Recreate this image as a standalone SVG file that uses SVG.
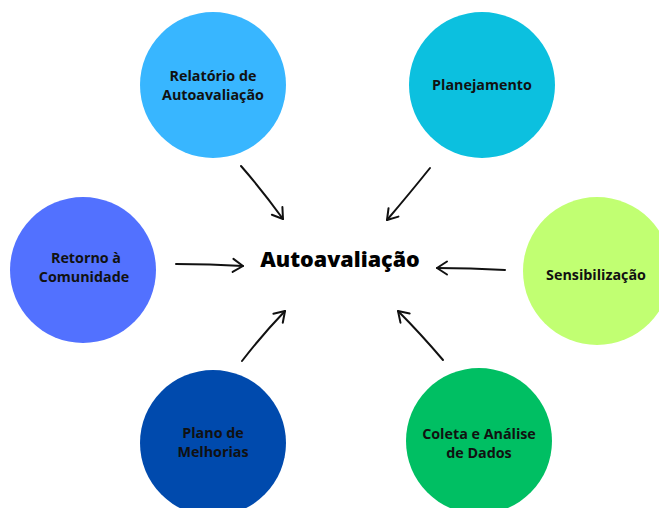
<svg xmlns="http://www.w3.org/2000/svg" width="659" height="508" viewBox="0 0 659 508">
<defs>
<style>
.lbl{font-family:"Open Sans","Noto Sans","DejaVu Sans",sans-serif;font-weight:700;font-size:14.3px;fill:#111;text-anchor:middle}
.title{font-family:"Open Sans","Noto Sans","DejaVu Sans",sans-serif;font-weight:800;font-size:21.5px;fill:#000;text-anchor:middle}
.con{fill:none;stroke:#111;stroke-width:2;stroke-linecap:round;marker-end:url(#ah)}
</style>
<marker id="ah" viewBox="-12 -8 14 16" markerWidth="14" markerHeight="16" refX="0" refY="0" orient="auto" markerUnits="userSpaceOnUse">
<path d="M -10 -6.5 L 0 0 L -10 6.5" fill="none" stroke="#111" stroke-width="2" stroke-linecap="round" stroke-linejoin="round"/>
</marker>
</defs>
<rect width="659" height="508" fill="#fff"/>
<g id="relatorio">
<circle cx="213" cy="85" r="73" fill="#38b6ff"/>
<text class="lbl" x="213" y="81">Relatório de</text>
<text class="lbl" x="213" y="100">Autoavaliação</text>
</g>
<g id="planejamento">
<circle cx="482" cy="85" r="73" fill="#0cc0df"/>
<text class="lbl" x="482" y="90">Planejamento</text>
</g>
<g id="retorno">
<circle cx="83" cy="270" r="73" fill="#5271ff"/>
<text class="lbl" x="86" y="263">Retorno à</text>
<text class="lbl" x="84" y="282">Comunidade</text>
</g>
<g id="sensibilizacao">
<circle cx="597" cy="271" r="74" fill="#c1ff72"/>
<text class="lbl" x="596" y="280">Sensibilização</text>
</g>
<g id="plano">
<circle cx="213" cy="443" r="73" fill="#004aad"/>
<text class="lbl" x="213" y="438">Plano de</text>
<text class="lbl" x="213" y="457">Melhorias</text>
</g>
<g id="coleta">
<circle cx="479" cy="441" r="73" fill="#00bf63"/>
<text class="lbl" x="479" y="439">Coleta e Análise</text>
<text class="lbl" x="479" y="458">de Dados</text>
</g>
<g id="center">
<text class="title" x="340" y="267">Autoavaliação</text>
</g>
<g id="connectors">
<path class="con" d="M 241 166 Q 262 190 283 219"/>
<path class="con" d="M 430 168 Q 410 193 387 220"/>
<path class="con" d="M 176 264 Q 210 264 243 266"/>
<path class="con" d="M 505 270 Q 470 268 437 268"/>
<path class="con" d="M 242 361 Q 262 335 285 311"/>
<path class="con" d="M 443 360 Q 420 333 398 311"/>
</g>
</svg>
